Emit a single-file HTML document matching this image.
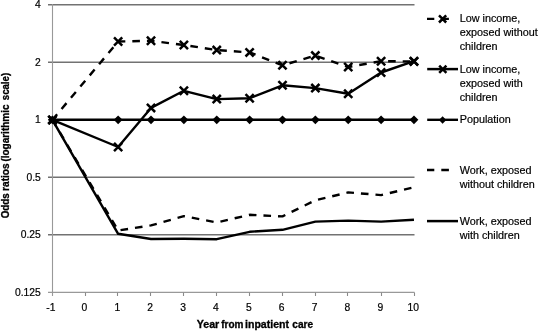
<!DOCTYPE html><html><head><meta charset="utf-8"><style>html,body{margin:0;padding:0;background:#fff;width:539px;height:332px;overflow:hidden}svg{display:block;filter:grayscale(1)}</style></head><body><svg width="539" height="332" viewBox="0 0 539 332">
<style>text{font-family:"Liberation Sans",sans-serif;fill:#000;stroke:#000;stroke-width:0.2px}.ax{font-size:10.3px}.lg{font-size:10.8px}.bt{font-weight:bold;stroke-width:0.3px}.mk{stroke:#000;stroke-width:2.5;fill:none}</style>
<rect width="539" height="332" fill="#fff"/>
<line x1="48" y1="4.70" x2="414.5" y2="4.70" stroke="#727272" stroke-width="1.6"/>
<line x1="48" y1="62.22" x2="414.5" y2="62.22" stroke="#727272" stroke-width="1.6"/>
<line x1="48" y1="119.74" x2="414.5" y2="119.74" stroke="#727272" stroke-width="1.6"/>
<line x1="48" y1="177.26" x2="414.5" y2="177.26" stroke="#727272" stroke-width="1.6"/>
<line x1="48" y1="234.78" x2="414.5" y2="234.78" stroke="#727272" stroke-width="1.6"/>
<line x1="48" y1="292.4" x2="414.5" y2="292.4" stroke="#999" stroke-width="1.4"/>
<line x1="52.5" y1="4.10" x2="52.5" y2="296" stroke="#999" stroke-width="1.1"/>
<line x1="85.5" y1="292.5" x2="85.5" y2="296" stroke="#8a8a8a" stroke-width="1.1"/>
<line x1="117.5" y1="292.5" x2="117.5" y2="296" stroke="#8a8a8a" stroke-width="1.1"/>
<line x1="150.5" y1="292.5" x2="150.5" y2="296" stroke="#8a8a8a" stroke-width="1.1"/>
<line x1="183.5" y1="292.5" x2="183.5" y2="296" stroke="#8a8a8a" stroke-width="1.1"/>
<line x1="216.5" y1="292.5" x2="216.5" y2="296" stroke="#8a8a8a" stroke-width="1.1"/>
<line x1="249.5" y1="292.5" x2="249.5" y2="296" stroke="#8a8a8a" stroke-width="1.1"/>
<line x1="282.5" y1="292.5" x2="282.5" y2="296" stroke="#8a8a8a" stroke-width="1.1"/>
<line x1="315.5" y1="292.5" x2="315.5" y2="296" stroke="#8a8a8a" stroke-width="1.1"/>
<line x1="347.5" y1="292.5" x2="347.5" y2="296" stroke="#8a8a8a" stroke-width="1.1"/>
<line x1="381.5" y1="292.5" x2="381.5" y2="296" stroke="#8a8a8a" stroke-width="1.1"/>
<line x1="414.5" y1="292.5" x2="414.5" y2="296" stroke="#8a8a8a" stroke-width="1.1"/>
<text class="ax" x="40.8" y="8.40" text-anchor="end">4</text>
<text class="ax" x="40.8" y="65.92" text-anchor="end">2</text>
<text class="ax" x="40.8" y="123.44" text-anchor="end">1</text>
<text class="ax" x="40.8" y="180.96" text-anchor="end">0.5</text>
<text class="ax" x="40.8" y="238.48" text-anchor="end">0.25</text>
<text class="ax" x="40.8" y="296.00" text-anchor="end">0.125</text>
<text class="ax" x="50.80" y="310.8" text-anchor="middle">-1</text>
<text class="ax" x="84.47" y="310.8" text-anchor="middle">0</text>
<text class="ax" x="117.34" y="310.8" text-anchor="middle">1</text>
<text class="ax" x="150.21" y="310.8" text-anchor="middle">2</text>
<text class="ax" x="183.08" y="310.8" text-anchor="middle">3</text>
<text class="ax" x="215.95" y="310.8" text-anchor="middle">4</text>
<text class="ax" x="248.82" y="310.8" text-anchor="middle">5</text>
<text class="ax" x="281.69" y="310.8" text-anchor="middle">6</text>
<text class="ax" x="314.56" y="310.8" text-anchor="middle">7</text>
<text class="ax" x="347.43" y="310.8" text-anchor="middle">8</text>
<text class="ax" x="380.30" y="310.8" text-anchor="middle">9</text>
<text class="ax" x="413.17" y="310.8" text-anchor="middle">10</text>
<text class="bt" x="196.70" y="328.4" font-size="10.2px" textLength="22.60" lengthAdjust="spacingAndGlyphs">Year</text>
<text class="bt" x="221.20" y="328.4" font-size="10.2px" textLength="22.20" lengthAdjust="spacingAndGlyphs">from</text>
<text class="bt" x="245.00" y="328.4" font-size="10.2px" textLength="44.00" lengthAdjust="spacingAndGlyphs">inpatient</text>
<text class="bt" x="292.30" y="328.4" font-size="10.2px" textLength="20.80" lengthAdjust="spacingAndGlyphs">care</text>
<text class="bt" transform="translate(9,0) rotate(-90)" x="-218.30" y="0" font-size="10px" textLength="24.90" lengthAdjust="spacingAndGlyphs">Odds</text>
<text class="bt" transform="translate(9,0) rotate(-90)" x="-190.90" y="0" font-size="10px" textLength="27.50" lengthAdjust="spacingAndGlyphs">ratios</text>
<text class="bt" transform="translate(9,0) rotate(-90)" x="-161.60" y="0" font-size="10px" textLength="57.10" lengthAdjust="spacingAndGlyphs">(logarithmic</text>
<text class="bt" transform="translate(9,0) rotate(-90)" x="-100.20" y="0" font-size="10px" textLength="27.30" lengthAdjust="spacingAndGlyphs">scale)</text>
<polyline points="52.40,119.90 118.14,230.50 151.01,225.40 183.88,216.20 216.75,222.40 249.62,214.80 282.49,216.40 315.36,200.30 348.23,192.40 381.10,195.10 413.97,187.30" fill="none" stroke="#000" stroke-width="2.4" stroke-dasharray="7.6 7.0" stroke-dashoffset="0.3" stroke-linejoin="round"/>
<polyline points="52.40,119.90 118.14,233.80 151.01,239.00 183.88,238.80 216.75,239.20 249.62,231.80 282.49,229.80 315.36,221.60 348.23,220.60 381.10,221.60 413.97,219.70" fill="none" stroke="#000" stroke-width="2.4" stroke-linejoin="round"/>
<polyline points="52.40,119.80 118.14,119.80 151.01,119.80 183.88,119.80 216.75,119.80 249.62,119.80 282.49,119.80 315.36,119.80 348.23,119.80 381.10,119.80 413.97,119.80" fill="none" stroke="#000" stroke-width="2.4" stroke-linejoin="round"/>
<polyline points="52.40,119.90 118.14,147.00 151.01,107.90 183.88,90.80 216.75,99.10 249.62,98.20 282.49,85.30 315.36,88.10 348.23,93.80 381.10,72.50 413.97,61.20" fill="none" stroke="#000" stroke-width="2.4" stroke-linejoin="round"/>
<polyline points="52.40,119.90 118.14,41.50 151.01,40.80 183.88,45.00 216.75,50.10 249.62,52.40 282.49,65.30 315.36,55.60 348.23,67.00 381.10,61.20 413.97,61.40" fill="none" stroke="#000" stroke-width="2.4" stroke-dasharray="7.6 7.0" stroke-dashoffset="0.3" stroke-linejoin="round"/>
<path d="M52.40,115.40L56.80,119.80L52.40,124.20L48.00,119.80Z" fill="#000"/>
<path d="M118.14,115.40L122.54,119.80L118.14,124.20L113.74,119.80Z" fill="#000"/>
<path d="M151.01,115.40L155.41,119.80L151.01,124.20L146.61,119.80Z" fill="#000"/>
<path d="M183.88,115.40L188.28,119.80L183.88,124.20L179.48,119.80Z" fill="#000"/>
<path d="M216.75,115.40L221.15,119.80L216.75,124.20L212.35,119.80Z" fill="#000"/>
<path d="M249.62,115.40L254.02,119.80L249.62,124.20L245.22,119.80Z" fill="#000"/>
<path d="M282.49,115.40L286.89,119.80L282.49,124.20L278.09,119.80Z" fill="#000"/>
<path d="M315.36,115.40L319.76,119.80L315.36,124.20L310.96,119.80Z" fill="#000"/>
<path d="M348.23,115.40L352.63,119.80L348.23,124.20L343.83,119.80Z" fill="#000"/>
<path d="M381.10,115.40L385.50,119.80L381.10,124.20L376.70,119.80Z" fill="#000"/>
<path d="M413.97,115.40L418.37,119.80L413.97,124.20L409.57,119.80Z" fill="#000"/>
<path d="M48.30,115.80L56.50,124.00M48.30,124.00L56.50,115.80" class="mk"/>
<path d="M114.04,142.90L122.24,151.10M114.04,151.10L122.24,142.90" class="mk"/>
<path d="M146.91,103.80L155.11,112.00M146.91,112.00L155.11,103.80" class="mk"/>
<path d="M179.78,86.70L187.98,94.90M179.78,94.90L187.98,86.70" class="mk"/>
<path d="M212.65,95.00L220.85,103.20M212.65,103.20L220.85,95.00" class="mk"/>
<path d="M245.52,94.10L253.72,102.30M245.52,102.30L253.72,94.10" class="mk"/>
<path d="M278.39,81.20L286.59,89.40M278.39,89.40L286.59,81.20" class="mk"/>
<path d="M311.26,84.00L319.46,92.20M311.26,92.20L319.46,84.00" class="mk"/>
<path d="M344.13,89.70L352.33,97.90M344.13,97.90L352.33,89.70" class="mk"/>
<path d="M377.00,68.40L385.20,76.60M377.00,76.60L385.20,68.40" class="mk"/>
<path d="M409.87,57.10L418.07,65.30M409.87,65.30L418.07,57.10" class="mk"/>
<path d="M48.30,115.80L56.50,124.00M48.30,124.00L56.50,115.80" class="mk"/>
<path d="M114.04,37.40L122.24,45.60M114.04,45.60L122.24,37.40" class="mk"/>
<path d="M146.91,36.70L155.11,44.90M146.91,44.90L155.11,36.70" class="mk"/>
<path d="M179.78,40.90L187.98,49.10M179.78,49.10L187.98,40.90" class="mk"/>
<path d="M212.65,46.00L220.85,54.20M212.65,54.20L220.85,46.00" class="mk"/>
<path d="M245.52,48.30L253.72,56.50M245.52,56.50L253.72,48.30" class="mk"/>
<path d="M278.39,61.20L286.59,69.40M278.39,69.40L286.59,61.20" class="mk"/>
<path d="M311.26,51.50L319.46,59.70M311.26,59.70L319.46,51.50" class="mk"/>
<path d="M344.13,62.90L352.33,71.10M344.13,71.10L352.33,62.90" class="mk"/>
<path d="M377.00,57.10L385.20,65.30M377.00,65.30L385.20,57.10" class="mk"/>
<path d="M409.87,57.30L418.07,65.50M409.87,65.50L418.07,57.30" class="mk"/>
<line x1="427" y1="18.9" x2="455" y2="18.9" stroke="#000" stroke-width="2.4" stroke-dasharray="7.6 7.0" stroke-dashoffset="0.3"/>
<path d="M439.00,15.30L446.20,22.50M439.00,22.50L446.20,15.30" class="mk"/>
<text class="lg" x="459.7" y="21.80">Low income,</text>
<text class="lg" x="459.7" y="36.00">exposed without</text>
<text class="lg" x="459.7" y="50.20">children</text>
<line x1="427.2" y1="69.1" x2="458" y2="69.1" stroke="#000" stroke-width="2.5"/>
<path d="M439.20,65.60L446.40,72.80M439.20,72.80L446.40,65.60" class="mk"/>
<text class="lg" x="459.7" y="73.00">Low income,</text>
<text class="lg" x="459.7" y="87.20">exposed with</text>
<text class="lg" x="459.7" y="101.40">children</text>
<line x1="427.2" y1="119.8" x2="458" y2="119.8" stroke="#000" stroke-width="2.4"/>
<path d="M442.60,116.30L446.30,120.00L442.60,123.70L438.90,120.00Z" fill="#000"/>
<text class="lg" x="459.7" y="122.60">Population</text>
<line x1="427" y1="170.0" x2="455" y2="170.0" stroke="#000" stroke-width="2.4" stroke-dasharray="7.6 7.0" stroke-dashoffset="0.3"/>
<text class="lg" x="459.7" y="174.10">Work, exposed</text>
<text class="lg" x="459.7" y="188.30">without children</text>
<line x1="427" y1="221.1" x2="458" y2="221.1" stroke="#000" stroke-width="2.5"/>
<text class="lg" x="459.7" y="224.70">Work, exposed</text>
<text class="lg" x="459.7" y="238.90">with children</text>
</svg></body></html>
